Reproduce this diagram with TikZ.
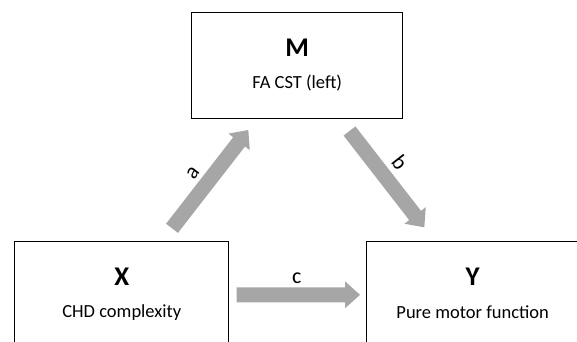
\documentclass[tikz,border=0pt]{standalone}
\usepackage{fontspec}
\setmainfont{Carlito}
\usetikzlibrary{calc}
\definecolor{arrgray}{RGB}{166,166,166}
\tikzset{
  box/.style={draw=black, line width=1pt, rectangle, minimum height=106pt, inner sep=0pt},
  bigletter/.style={font=\fontsize{27}{31}\selectfont\bfseries, inner sep=0pt},
  caption/.style={font=\fontsize{18.5}{22}\selectfont, inner sep=0pt},
  pathlabel/.style={font=\fontsize{22}{26}\selectfont, inner sep=0pt}
}
\newcommand\blockarrow[2]{%
  \coordinate (hb) at ($(#2)!15pt!(#1)$);
  \fill[arrgray] ($(#1)!7.5pt!90:(#2)$) -- ($(hb)!7.5pt!90:(#2)$) -- ($(hb)!13.5pt!90:(#2)$) -- (#2)
    -- ($(hb)!13.5pt!-90:(#2)$) -- ($(hb)!7.5pt!-90:(#2)$) -- ($(#1)!7.5pt!-90:(#2)$) -- cycle;
}
\begin{document}
\begin{tikzpicture}[x=1pt,y=-1pt]
\useasboundingbox (0,0) rectangle (577,341);
\clip (0,0) rectangle (577,341);
% boxes
\node[box, minimum width=211pt] (mbox) at (297.2,65.3) {};
\node[box, minimum width=214pt] (xbox) at (121.8,294.7) {};
\node[box, minimum width=212pt] (ybox) at (472.7,294.3) {};
% texts
\node[bigletter] (mlet) at ($(mbox.north)+(0,36)$) {M};
\node[caption] (mcap) at ($(mbox.south)+(0,-36)$) {FA CST (left)};
\node[bigletter] (xlet) at ($(xbox.north)+(0,36)$) {X};
\node[caption] (xcap) at ($(xbox.south)+(0,-36)$) {CHD complexity};
\node[bigletter] (ylet) at ($(ybox.north)+(0,36)$) {Y};
\node[caption] (ycap) at ($(ybox.south)+(0,-36)$) {Pure motor function};
% arrow end points
\coordinate (at) at (172,228.3);
\coordinate (ah) at (248.3,130);
\coordinate (bt) at (349.5,131);
\coordinate (bh) at (424.3,227.3);
\coordinate (ct) at (236.7,294.8);
\coordinate (ch) at (360,294.8);
\blockarrow{at}{ah}
\blockarrow{bt}{bh}
\blockarrow{ct}{ch}
% labels
\node[pathlabel, rotate=52] (alab) at (193,173) {a};
\node[pathlabel, rotate=-52] (blab) at (400,162) {b};
\node[pathlabel] (clab) at (296.7,278) {c};
\end{tikzpicture}
\end{document}
